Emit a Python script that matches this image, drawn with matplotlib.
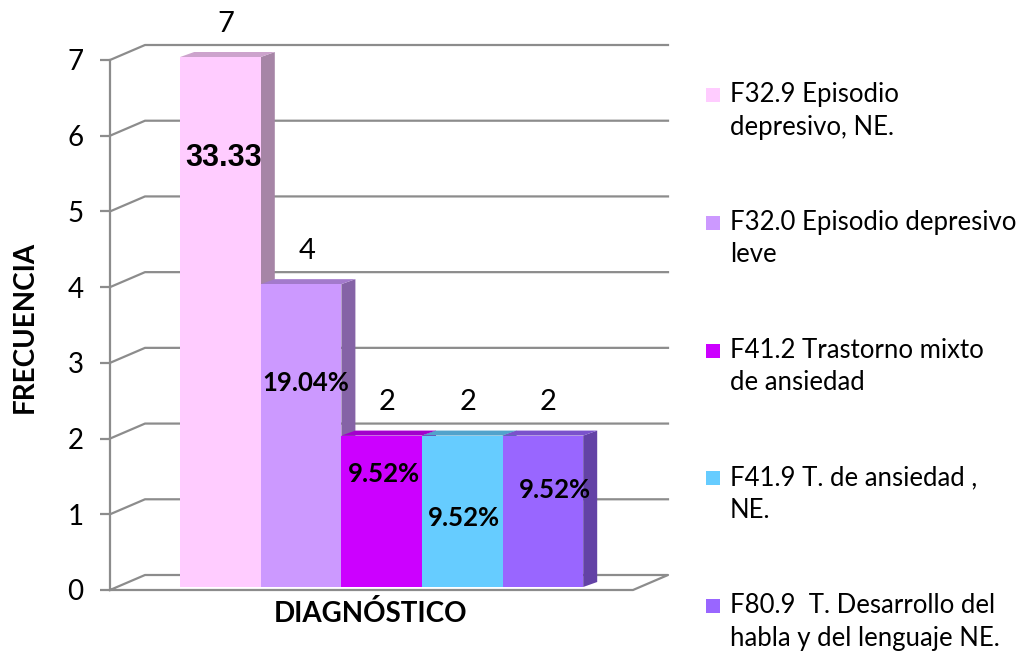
import matplotlib.pyplot as plt
from matplotlib.patches import Polygon, Rectangle
import matplotlib.colors as mcolors

plt.rcParams['font.family'] = ['Lato', 'DejaVu Sans']

# frecuencia por diagnóstico
diagnosticos = [
    "F32.9 Episodio\ndepresivo, NE.",
    "F32.0 Episodio depresivo\nleve",
    "F41.2 Trastorno mixto\nde ansiedad",
    "F41.9 T. de ansiedad ,\nNE.",
    "F80.9  T. Desarrollo del\nhabla y del lenguaje NE.",
]
frecuencia = [7, 4, 2, 2, 2]
porcentaje = ["33.33", "19.04%", "9.52%", "9.52%", "9.52%"]
colores = ["#FFCCFF", "#CC99FF", "#CC00FF", "#66CCFF", "#9966FF"]
yticks = [0, 1, 2, 3, 4, 5, 6, 7]

# where the percentage labels sit inside each bar (x shift, height)
pct_pos = [(0.04, 5.71), (1.06, 2.73), (2.03, 1.53), (3.02, 0.95), (4.15, 1.32)]

W, H = 1026, 653
fig = plt.figure(figsize=(W / 100, H / 100), dpi=100)

# axes box: from the value axis to the right end of the back wall
ax_l, ax_r, ax_b, ax_t = 110, 668, 590, 60
ax = fig.add_axes([ax_l / W, 1 - ax_b / H, (ax_r - ax_l) / W, (ax_b - ax_t) / H])
px_bar = 80.6
xmin = -(220.5 - ax_l) / px_bar
xmax = xmin + (ax_r - ax_l) / px_bar
ax.set_xlim(xmin, xmax)
ax.set_ylim(0, 7)

px_unit = (ax_b - ax_t) / 7
gdx, gdy = 35 / px_bar, 15 / px_unit     # depth of the back wall
bdx, bdy = 14 / px_bar, 5 / px_unit      # depth of the bars
base = 3 / px_unit                       # bars stand a little behind the front edge

grid_c = "#8c8c8c"

# back wall gridlines with the oblique connector to the axis
for v in yticks[1:]:
    ax.plot([xmin, xmin + gdx, xmax], [v, v + gdy, v + gdy],
            color=grid_c, lw=1.6, clip_on=False, zorder=1)
# floor
ax.plot([xmin, xmin + gdx, xmax, xmax - gdx, xmin], [0, gdy, gdy, 0, 0],
        color=grid_c, lw=1.6, clip_on=False, zorder=1)

for s in ["top", "right", "bottom"]:
    ax.spines[s].set_visible(False)
ax.spines["left"].set_color(grid_c)
ax.spines["left"].set_linewidth(1.6)
ax.set_xticks([])
ax.set_yticks(yticks)
ax.tick_params(axis="y", length=7, width=1.6, color=grid_c, pad=12, labelsize=20)

xs = list(range(len(frecuencia)))
bars = ax.bar(xs, frecuencia, width=1, bottom=base, color=colores, edgecolor="none")

def shade(c, f):
    r, g, b = mcolors.to_rgb(c)
    return (r * f, g * f, b * f)

for i, rect in enumerate(bars):
    v = frecuencia[i] + base
    left = xs[i] - 0.5
    right = xs[i] + 0.5
    z = 10 + 3 * i
    side = Polygon([(right, base), (right + bdx, base + bdy), (right + bdx, v + bdy), (right, v)],
                   closed=True, color=shade(colores[i], 0.65), lw=0, zorder=z, clip_on=False)
    top = Polygon([(left, v), (right, v), (right + bdx, v + bdy), (left + bdx, v + bdy)],
                  closed=True, color=shade(colores[i], 0.8), lw=0, zorder=z + 1, clip_on=False)
    ax.add_patch(side)
    ax.add_patch(top)
    rect.set_zorder(z + 2)
    rect.set_clip_on(False)

    ax.text(xs[i] + 0.07, v + 0.44, str(frecuencia[i]), ha="center", va="center",
            fontsize=21, zorder=40, clip_on=False)

    dx, hy = pct_pos[i]
    if i == 0:
        ax.text(dx, hy, porcentaje[i], ha="center", va="center", fontsize=22,
                fontweight="bold", family=["Liberation Sans"], zorder=40)
    else:
        ax.text(dx, hy, porcentaje[i], ha="center", va="center", fontsize=18.5,
                fontweight="bold", zorder=40)

# axis titles
fig.text(25 / W, 1 - 327 / H, "FRECUENCIA", rotation=90, ha="center", va="center",
         fontsize=20, fontweight="bold")
fig.text(370 / W, 1 - 614 / H, "DIAGNÓSTICO", ha="center", va="center",
         fontsize=20, fontweight="bold")

# legend, keys aligned with the first line of each label
for i, lab in enumerate(diagnosticos):
    yc = 95 + i * 127.8
    fig.add_artist(Rectangle((706 / W, 1 - (yc + 7) / H), 14 / W, 14 / H,
                             transform=fig.transFigure, color=colores[i], lw=0))
    for j, line in enumerate(lab.split("\n")):
        fig.text(730 / W, 1 - (yc + 7 + j * 32.5) / H, line, ha="left",
                 va="baseline", fontsize=18.5)

fig.savefig("out.png", dpi=100, facecolor="white")
